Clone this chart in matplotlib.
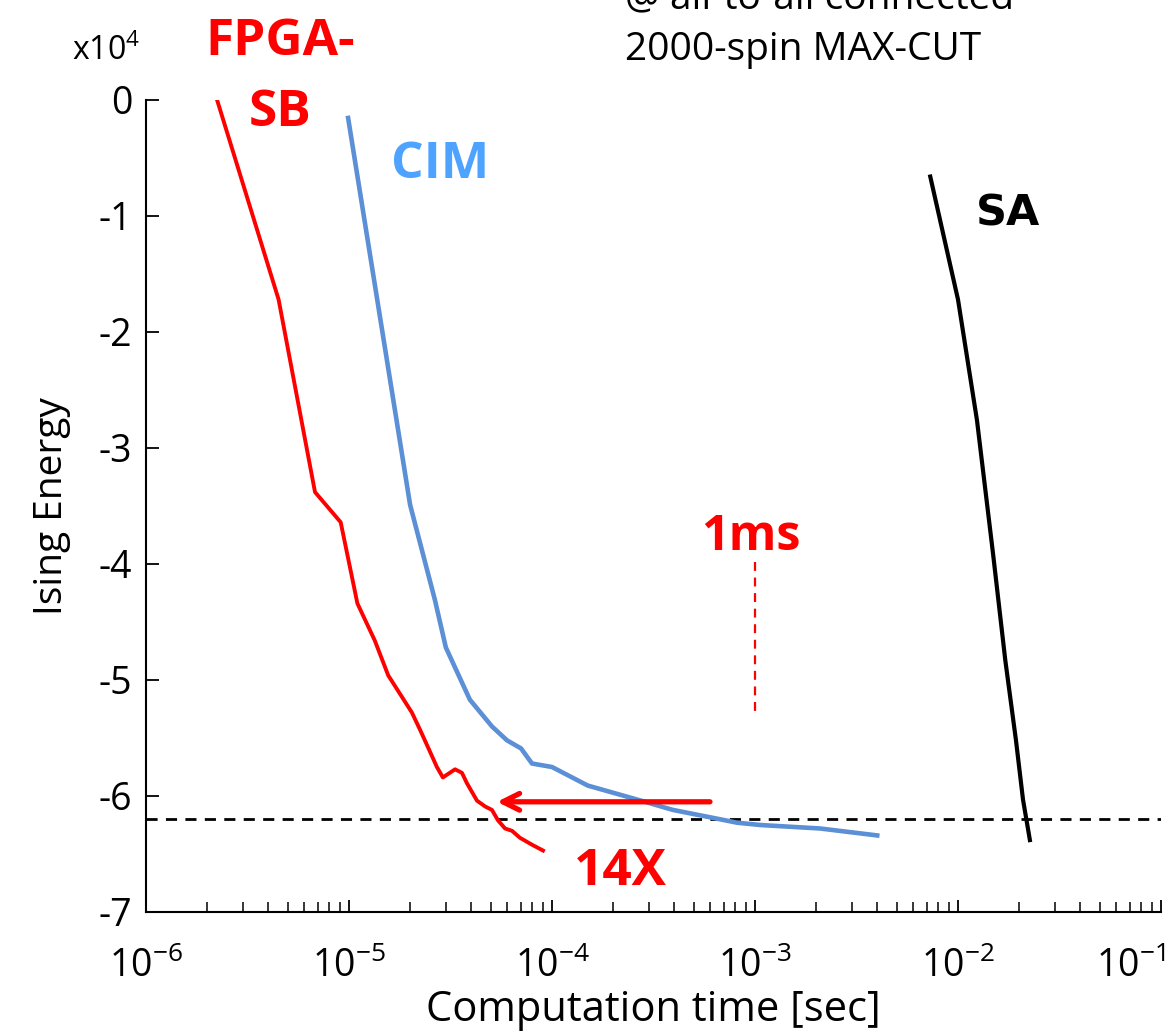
#!/usr/bin/env python3
import numpy as np
import matplotlib
matplotlib.use('Agg')
import matplotlib.pyplot as plt
import matplotlib.transforms as mtransforms
from matplotlib.ticker import LogLocator, NullFormatter, FixedLocator

# ---- data (energy in units of 1e4) ----
sb_time = [2.24e-6, 4.5e-6, 6.8e-6, 9.1e-6, 1.1e-5, 1.34e-5, 1.56e-5, 2.04e-5, 2.24e-5,
           2.45e-5, 2.71e-5, 2.9e-5, 3.33e-5, 3.6e-5, 3.81e-5, 4.27e-5, 4.68e-5, 5.06e-5,
           5.42e-5, 5.87e-5, 6.35e-5, 6.95e-5, 7.97e-5, 9.03e-5]
sb_energy = [0.0, -1.72, -3.38, -3.64, -4.34, -4.66, -4.96, -5.28, -5.43,
             -5.58, -5.75, -5.84, -5.77, -5.80, -5.89, -6.04, -6.09, -6.12,
             -6.21, -6.28, -6.30, -6.36, -6.42, -6.47]

cim_time = [9.9e-6, 2.0e-5, 2.65e-5, 3.0e-5, 3.94e-5, 5.06e-5, 6.0e-5, 7.04e-5, 7.97e-5,
            1.0e-4, 1.5e-4, 2.62e-4, 3.94e-4, 6.7e-4, 8.15e-4, 1.06e-3, 2.09e-3, 4.0e-3]
cim_energy = [-0.155, -3.49, -4.31, -4.72, -5.17, -5.40, -5.52, -5.59, -5.72,
              -5.75, -5.91, -6.03, -6.12, -6.20, -6.23, -6.25, -6.28, -6.34]

sa_time = [7.3e-3, 1.0e-2, 1.24e-2, 1.49e-2, 1.71e-2, 1.93e-2, 2.09e-2, 2.26e-2]
sa_energy = [-0.66, -1.72, -2.76, -3.92, -4.83, -5.52, -6.03, -6.38]

target_energy = -6.2
arrow_from = 6.0e-4
arrow_to = 5.36e-5
arrow_level = -6.05

xtick_vals = [1e-6, 1e-5, 1e-4, 1e-3, 1e-2, 1e-1]
xtick_labels = ['$10^{-6}$', '$10^{-5}$', '$10^{-4}$', '$10^{-3}$', '$10^{-2}$', '$10^{-1}$']
ytick_vals = [0, -1, -2, -3, -4, -5, -6, -7]

plt.rcParams['font.family'] = ['Open Sans', 'DejaVu Sans']
plt.rcParams['mathtext.fontset'] = 'custom'
plt.rcParams['mathtext.rm'] = 'Open Sans'
plt.rcParams['mathtext.it'] = 'Open Sans:italic'
plt.rcParams['mathtext.bf'] = 'Open Sans:bold'

fig = plt.figure(figsize=(11.65, 10.34), dpi=100)
ax = fig.add_axes([146/1165, 1 - 912/1034, (1161 - 146)/1165, (912 - 100)/1034])

ax.plot(sb_time, sb_energy, color='#ff0000', lw=2.8, zorder=4)
ax.plot(cim_time, cim_energy, color='#5b8fd6', lw=3.3, zorder=3)
ax.plot(sa_time, sa_energy, color='black', lw=3.0, zorder=3)

ax.axhline(target_energy, color='black', lw=2.0, ls=(0, (4, 3)), zorder=2)
ax.plot([1e-3, 1e-3], [-3.98, -5.28], color='#ff0000', lw=1.6, ls=(0, (4, 3)))
ax.annotate('', xy=(arrow_to, arrow_level), xytext=(arrow_from, arrow_level),
            arrowprops=dict(arrowstyle='->', color='#ff0000', lw=3.8,
                            mutation_scale=30, shrinkA=0, shrinkB=0), zorder=5)

ax.set_xscale('log')
ax.set_xlim(1e-6, 1e-1)
ax.set_ylim(-7, 0)
ax.xaxis.set_major_locator(FixedLocator(xtick_vals))
ax.set_xticklabels(xtick_labels)
ax.xaxis.set_minor_locator(LogLocator(base=10, subs=np.arange(2, 10)))
ax.xaxis.set_minor_formatter(NullFormatter())
ax.set_yticks(ytick_vals)
ax.set_yticklabels([str(v) if v == 0 else '-%d' % abs(v) for v in ytick_vals])

for s in ['top', 'right']:
    ax.spines[s].set_visible(False)
for s in ['left', 'bottom']:
    ax.spines[s].set_linewidth(1.5)
ax.tick_params(axis='both', which='major', direction='in', length=9, width=1.3,
               labelsize=27)
ax.tick_params(axis='x', which='major', pad=26)
ax.tick_params(axis='x', which='minor', direction='in', length=7, width=1.1)
ax.tick_params(axis='y', pad=10)
# last x label is pulled in so it stays inside the figure
last = ax.xaxis.get_major_ticks()[-1].label1
last.set_transform(last.get_transform() +
                   mtransforms.ScaledTranslation(-0.3, 0, fig.dpi_scale_trans))

ax.set_xlabel('Computation time [sec]', fontsize=30, labelpad=2)
ax.set_ylabel('Ising Energy', fontsize=28, labelpad=20)

# annotations
txt = dict(transform=ax.transData, clip_on=False, fontweight='bold', ha='center', va='baseline')
ax.text(4.57e-6, 0.39, 'FPGA-', color='#ff0000', fontsize=37, **txt)
ax.text(4.57e-6, -0.22, 'SB', color='#ff0000', fontsize=37, **txt)
ax.text(2.8e-5, -0.67, 'CIM', color='#4da3ff', fontsize=37, **txt)
ax.text(1.76e-2, -1.08, 'SA', color='black', fontsize=31, family='DejaVu Sans', **txt)
ax.text(9.5e-4, -3.88, '1ms', color='#ff0000', fontsize=35, **txt)
ax.text(2.16e-4, -6.77, '14X', color='#ff0000', fontsize=37, **txt)

fig.text(140/1165, 1 - 60/1034, 'x10$^{4}$', fontsize=23, ha='right', va='baseline')
fig.text(625/1165, 1 - 8/1034, '@ all-to-all connected', fontsize=28, ha='left', va='baseline')
fig.text(625/1165, 1 - 60/1034, '2000-spin MAX-CUT', fontsize=28, ha='left', va='baseline')

fig.savefig('out.png', dpi=100)
